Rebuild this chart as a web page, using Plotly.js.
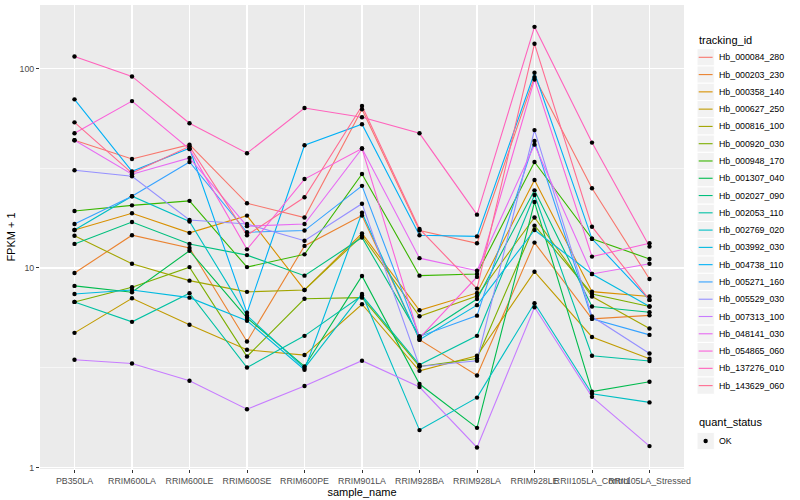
<!DOCTYPE html>
<html><head><meta charset="utf-8">
<script src="https://cdn.plot.ly/plotly-3.0.1.min.js"></script>
<style>html,body{margin:0;padding:0;background:#fff}#chart{width:800px;height:500px}</style>
</head><body><div id="chart"></div>
<script>
// ---- data ----
const categories = ["PB350LA","RRIM600LA","RRIM600LE","RRIM600SE","RRIM600PE","RRIM901LA","RRIM928BA","RRIM928LA","RRIM928LE","RRII105LA_Control","RRII105LA_Stressed"];
const trackingIds = ["Hb_000084_280","Hb_000203_230","Hb_000358_140","Hb_000627_250","Hb_000816_100","Hb_000920_030","Hb_000948_170","Hb_001307_040","Hb_002027_090","Hb_002053_110","Hb_002769_020","Hb_003992_030","Hb_004738_110","Hb_005271_160","Hb_005529_030","Hb_007313_100","Hb_048141_030","Hb_054865_060","Hb_137276_010","Hb_143629_060"];
const seriesColors = ["#F8766D","#EA8331","#D89000","#C09B00","#A3A500","#7CAE00","#39B600","#00BB4E","#00BF7D","#00C1A3","#00BFC4","#00BAE0","#00B0F6","#35A2FF","#9590FF","#C77CFF","#E76BF3","#FA62DB","#FF62BC","#FF6C91"];
const Hb_000084_280 = [43.7, 35.2, 41.5, 21.1, 17.9, 62.4, 15.4, 13.3, 90.5, 25.1, 8.81];
const Hb_000203_230 = [9.44, 14.6, 12.6, 4.28, 12.9, 18.3, 4.37, 2.89, 13.4, 5.56, 5.79];
const Hb_000358_140 = [15.5, 18.8, 15.0, 18.3, 7.76, 14.9, 6.14, 7.50, 27.6, 7.61, 7.19];
const Hb_000627_250 = [4.73, 7.05, 5.19, 3.89, 3.66, 6.58, 3.05, 3.63, 9.58, 4.51, 3.51];
const Hb_000816_100 = [14.5, 10.5, 8.64, 7.59, 7.76, 14.5, 5.73, 7.24, 17.9, 7.19, 4.97];
const Hb_000920_030 = [6.76, 8.01, 10.1, 3.60, 7.01, 7.10, 3.21, 3.52, 16.3, 7.41, 6.41];
const Hb_000948_170 = [19.3, 20.6, 21.7, 10.1, 11.7, 29.6, 9.15, 9.33, 34.0, 14.0, 11.1];
const Hb_001307_040 = [8.13, 7.56, 12.2, 5.62, 3.21, 9.12, 2.62, 1.58, 21.4, 2.40, 2.69];
const Hb_002027_090 = [13.2, 17.0, 13.2, 11.6, 9.15, 14.2, 4.54, 6.99, 24.5, 6.41, 6.00];
const Hb_002053_110 = [6.76, 5.37, 7.48, 3.17, 4.57, 7.27, 3.27, 4.57, 23.2, 3.63, 3.42];
const Hb_002769_020 = [15.5, 22.9, 17.1, 5.77, 3.15, 7.41, 1.54, 2.24, 6.66, 2.34, 2.12];
const Hb_003992_030 = [7.41, 7.76, 7.10, 5.44, 3.09, 18.9, 4.37, 6.51, 15.5, 9.33, 6.41];
const Hb_004738_110 = [70.0, 30.5, 39.8, 5.96, 41.2, 52.5, 14.6, 14.4, 95.2, 14.0, 6.92];
const Hb_005271_160 = [16.6, 22.9, 34.0, 15.1, 15.4, 25.8, 4.54, 5.77, 43.3, 5.56, 4.62];
const Hb_005529_030 = [30.9, 28.8, 17.4, 16.6, 13.7, 21.0, 3.21, 3.43, 49.1, 5.71, 3.73];
const Hb_007313_100 = [3.47, 3.32, 2.72, 1.96, 2.56, 3.43, 2.53, 1.26, 6.36, 2.26, 1.28];
const Hb_048141_030 = [43.7, 29.5, 35.6, 16.2, 16.6, 39.7, 11.2, 9.69, 41.5, 9.33, 10.5];
const Hb_054865_060 = [47.3, 68.6, 39.4, 12.4, 27.9, 39.7, 4.46, 9.02, 88.1, 11.4, 13.3];
const Hb_137276_010 = [114.8, 91.2, 53.1, 37.6, 63.3, 56.9, 47.3, 18.5, 161.6, 42.5, 12.8];
const Hb_143629_060 = [53.7, 29.9, 40.7, 14.6, 22.6, 64.8, 15.7, 7.88, 132.9, 16.1, 6.92];
const seriesValues = [Hb_000084_280,Hb_000203_230,Hb_000358_140,Hb_000627_250,Hb_000816_100,Hb_000920_030,Hb_000948_170,Hb_001307_040,Hb_002027_090,Hb_002053_110,Hb_002769_020,Hb_003992_030,Hb_004738_110,Hb_005271_160,Hb_005529_030,Hb_007313_100,Hb_048141_030,Hb_054865_060,Hb_137276_010,Hb_143629_060];
const yTickVals = [1, 10, 100];
const quantStatus = ["OK"];

// ---- geometry (pixels of the 800x500 figure) ----
const PL = 40, PR = 684, PT = 5, PB = 469;
const fx = X => (X - PL) / (PR - PL);
const fy = Y => (PB - Y) / (PB - PT);
const FONT = "Liberation Sans, Arial, Helvetica, sans-serif";

const traces = [];
seriesValues.forEach((vals, i) => {
  traces.push({
    type: "scatter", mode: "lines", x: categories, y: vals,
    name: trackingIds[i], line: {color: seriesColors[i], width: 1.1},
    showlegend: false, hoverinfo: "x+y+name"
  });
});
const px = [], py = [];
seriesValues.forEach(vals => vals.forEach((v, j) => { px.push(categories[j]); py.push(v); }));
traces.push({
  type: "scatter", mode: "markers", x: px, y: py, name: "OK",
  marker: {color: "#000000", size: 4.4}, showlegend: false, hoverinfo: "x+y"
});

// ---- manual ggplot-style legend ----
const shapes = [], annotations = [];
const LX = 697, KEYW = 17.3, KEYH = 17.28;
annotations.push({xref: "paper", yref: "paper", x: fx(LX), y: fy(40.5), xanchor: "left", yanchor: "middle",
  text: "tracking_id", showarrow: false, font: {family: FONT, size: 11, color: "#000"}});
trackingIds.forEach((id, i) => {
  const cy = 57.3 + KEYH * i;
  shapes.push({type: "rect", xref: "paper", yref: "paper", x0: fx(LX), x1: fx(LX + KEYW),
    y0: fy(cy - KEYH / 2), y1: fy(cy + KEYH / 2), fillcolor: "#F2F2F2", line: {color: "#FFFFFF", width: 1}, layer: "above"});
  shapes.push({type: "line", xref: "paper", yref: "paper", x0: fx(LX + 1.7), x1: fx(LX + KEYW - 1.7),
    y0: fy(cy), y1: fy(cy), line: {color: seriesColors[i], width: 1.1}, layer: "above"});
  annotations.push({xref: "paper", yref: "paper", x: fx(LX + 19.5), y: fy(cy), xanchor: "left", yanchor: "middle",
    text: id, showarrow: false, font: {family: FONT, size: 8.8, color: "#000"}});
});
annotations.push({xref: "paper", yref: "paper", x: fx(LX), y: fy(421.5), xanchor: "left", yanchor: "middle",
  text: "quant_status", showarrow: false, font: {family: FONT, size: 11, color: "#000"}});
quantStatus.forEach((q, i) => {
  const cy = 441 + KEYH * i;
  shapes.push({type: "rect", xref: "paper", yref: "paper", x0: fx(LX), x1: fx(LX + KEYW),
    y0: fy(cy - KEYH / 2), y1: fy(cy + KEYH / 2), fillcolor: "#F2F2F2", line: {color: "#FFFFFF", width: 1}, layer: "above"});
  shapes.push({type: "circle", xref: "paper", yref: "paper", x0: fx(LX + KEYW / 2 - 2.2), x1: fx(LX + KEYW / 2 + 2.2),
    y0: fy(cy + 2.2), y1: fy(cy - 2.2), fillcolor: "#000", line: {color: "#000", width: 0}, layer: "above"});
  annotations.push({xref: "paper", yref: "paper", x: fx(LX + 19.5), y: fy(cy), xanchor: "left", yanchor: "middle",
    text: q, showarrow: false, font: {family: FONT, size: 8.8, color: "#000"}});
});

const layout = {
  width: 800, height: 500,
  margin: {l: PL, r: 800 - PR, t: PT, b: 500 - PB, pad: 0},
  paper_bgcolor: "#FFFFFF", plot_bgcolor: "#EBEBEB",
  font: {family: FONT, size: 8.8, color: "#4D4D4D"},
  showlegend: false,
  xaxis: {
    type: "category", categoryorder: "array", categoryarray: categories,
    range: [-0.6, categories.length - 0.4],
    showgrid: true, gridcolor: "#FFFFFF", gridwidth: 1.1, zeroline: false, showline: false,
    ticks: "outside", ticklen: 3, tickwidth: 1, tickcolor: "#333333", tickangle: 0,
    tickfont: {family: FONT, size: 8.8, color: "#4D4D4D"},
    title: {text: "sample_name", font: {family: FONT, size: 11, color: "#000"}, standoff: 2}
  },
  yaxis: {
    type: "log", range: [-0.0075, 2.318],
    tickmode: "array", tickvals: yTickVals, ticktext: yTickVals.map(String),
    showgrid: true, gridcolor: "#FFFFFF", gridwidth: 1.1, zeroline: false, showline: false,
    ticks: "outside", ticklen: 3, tickwidth: 1, tickcolor: "#333333",
    tickfont: {family: FONT, size: 8.8, color: "#4D4D4D"},
    minor: {tickmode: "array", tickvals: [Math.sqrt(10), Math.sqrt(1000)], showgrid: true, gridcolor: "#FFFFFF", gridwidth: 0.55, ticks: ""},
    title: {text: "FPKM + 1", font: {family: FONT, size: 11, color: "#000"}, standoff: 1}
  },
  shapes: shapes, annotations: annotations
};
Plotly.newPlot("chart", traces, layout, {staticPlot: true, displayModeBar: false});
</script></body></html>
